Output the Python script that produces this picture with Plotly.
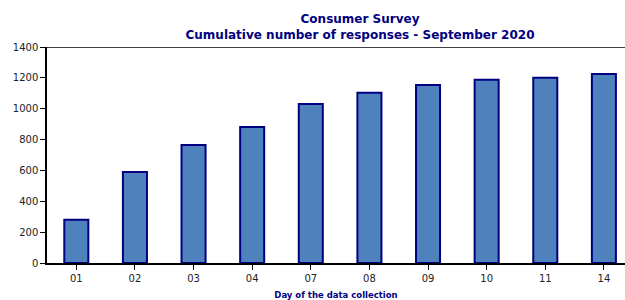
import plotly.graph_objects as go

days = ["01", "02", "03", "04", "07", "08", "09", "10", "11", "14"]
responses = [280, 590, 765, 882, 1030, 1104, 1154, 1187, 1201, 1225]
y_ticks = [0, 200, 400, 600, 800, 1000, 1200, 1400]

NAVY = "#000080"
FONT = "DejaVu Sans"

fig = go.Figure(go.Bar(
    x=list(range(len(days))), y=responses,
    width=0.41,
    marker=dict(color="#4F81BD", line=dict(color=NAVY, width=2)),
))

fig.update_layout(
    width=625, height=300,
    margin=dict(l=47, r=0, t=47, b=37),
    paper_bgcolor="white", plot_bgcolor="white",
    showlegend=False,
    font=dict(family=FONT, size=10, color="#222"),
    title=dict(
        text="Consumer Survey<br>Cumulative number of responses - September 2020",
        x=0.576, xanchor="center", y=0.922, yanchor="top",
        font=dict(family=FONT, size=12, color=NAVY, weight="bold"),
    ),
    xaxis=dict(
        tickmode="array", tickvals=list(range(len(days))), ticktext=days,
        range=[-0.5, 9.36],
        showline=True, linecolor="black", linewidth=1.5,
        ticks="outside", ticklen=5, tickcolor="black",
        tickson="boundaries", showgrid=False, zeroline=False,
        title=dict(text="Day of the data collection", standoff=9,
                   font=dict(family=FONT, size=8.5, color=NAVY, weight="bold")),
    ),
    yaxis=dict(
        range=[0, 1400], tickvals=y_ticks,
        showline=True, linecolor="black", linewidth=1.5,
        ticks="outside", ticklen=5, tickcolor="black",
        showgrid=False, zeroline=False,
    ),
    shapes=[dict(type="line", xref="paper", yref="y", x0=0, x1=1, y0=1400, y1=1400,
                 line=dict(color="black", width=1.5))],
)

fig.write_html("out.html", config={"displayModeBar": False},
               post_script="document.body.style.margin='0';document.body.style.overflow='hidden';")
